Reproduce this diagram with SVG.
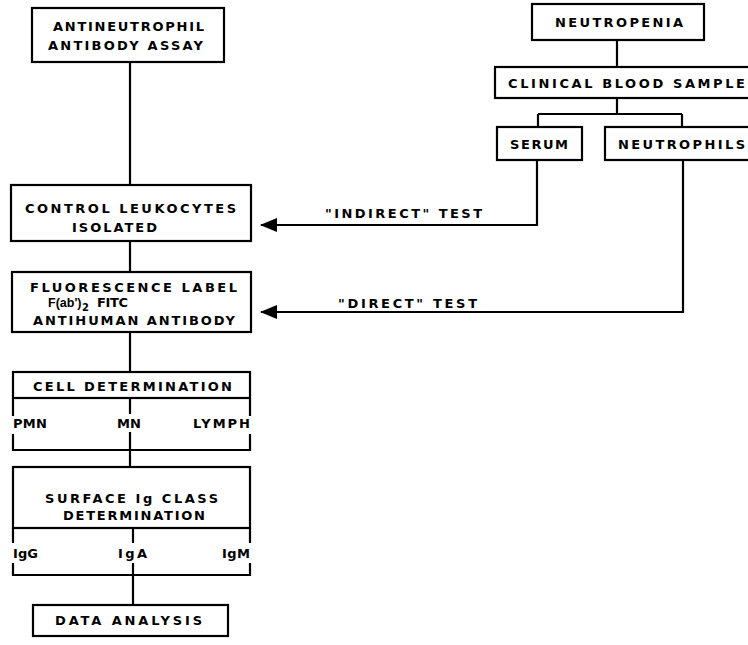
<svg xmlns="http://www.w3.org/2000/svg" width="748" height="645" viewBox="0 0 748 645">
<style>
.box{fill:#fff;stroke:#000;stroke-width:2.2}
.ln{fill:none;stroke:#000;stroke-width:2.2}
.t{font-family:"DejaVu Sans","Liberation Sans",Arial,sans-serif;font-weight:bold;font-size:13px;fill:#000}
.f{font-family:"Liberation Sans",Arial,sans-serif;font-weight:bold;font-size:12.5px;fill:#000}
.sub{font-family:"DejaVu Sans","Liberation Sans",Arial,sans-serif;font-weight:bold;font-size:10px;fill:#000}
</style>
<defs>
<marker id="arr" viewBox="0 0 17 14" markerWidth="17" markerHeight="14" refX="16" refY="7" orient="auto" markerUnits="userSpaceOnUse">
<path d="M0,0 L17,7 L0,14 z" fill="#000"/>
</marker>
</defs>
<rect width="748" height="645" fill="#fff"/>
<g id="connectors">
<path class="ln" d="M130,62 V185"/>
<path class="ln" d="M130,241 V272"/>
<path class="ln" d="M130,332 V372"/>
<path class="ln" d="M13,398 V416 M250,398 V416 M130,398 V414"/>
<path class="ln" d="M13,434 V450 H250 V434 M130,432 V467"/>
<path class="ln" d="M13,528 V543 M250,528 V543 M133,528 V543"/>
<path class="ln" d="M13,563 V575 H250 V563 M133,563 V605"/>
<path class="ln" d="M617,40 V67 M617,98 V114 M538,114 H682 M538,114 V127 M682,114 V127"/>
<path class="ln" d="M537,160 V225 H261" marker-end="url(#arr)"/>
<path class="ln" d="M683,160 V312 H261" marker-end="url(#arr)"/>
<text class="t" x="325" y="218" textLength="157" lengthAdjust="spacing">"INDIRECT" TEST</text>
<text class="t" x="338" y="308" textLength="139" lengthAdjust="spacing">"DIRECT" TEST</text>
</g>
<g id="antineutrophil">
<rect class="box" x="32" y="8" width="192" height="54"/>
<text class="t" x="53" y="31" textLength="151" lengthAdjust="spacing">ANTINEUTROPHIL</text>
<text class="t" x="48" y="50" textLength="155" lengthAdjust="spacing">ANTIBODY ASSAY</text>
</g>
<g id="control">
<rect class="box" x="11" y="185" width="240" height="56"/>
<text class="t" x="25" y="213" textLength="211" lengthAdjust="spacing">CONTROL LEUKOCYTES</text>
<text class="t" x="72" y="232" textLength="85" lengthAdjust="spacing">ISOLATED</text>
</g>
<g id="fluorescence">
<rect class="box" x="12" y="272" width="239" height="60"/>
<text class="t" x="30" y="292" textLength="207" lengthAdjust="spacing">FLUORESCENCE LABEL</text>
<text class="f" x="48" y="307">F(ab')</text>
<text class="sub" x="82" y="311">2</text>
<text class="t" x="97" y="307" textLength="31" lengthAdjust="spacing">FITC</text>
<text class="t" x="33" y="325" textLength="202" lengthAdjust="spacing">ANTIHUMAN ANTIBODY</text>
</g>
<g id="cell">
<rect class="box" x="13" y="372" width="237" height="26"/>
<text class="t" x="33" y="391" textLength="199" lengthAdjust="spacing">CELL DETERMINATION</text>
<text class="t" x="13" y="428" textLength="34" lengthAdjust="spacing">PMN</text>
<text class="t" x="117" y="428" textLength="24" lengthAdjust="spacing">MN</text>
<text class="t" x="193" y="428" textLength="57" lengthAdjust="spacing">LYMPH</text>
</g>
<g id="surface">
<rect class="box" x="13" y="467" width="237" height="61"/>
<text class="t" x="45" y="503" textLength="173" lengthAdjust="spacing">SURFACE Ig CLASS</text>
<text class="t" x="63" y="520" textLength="142" lengthAdjust="spacing">DETERMINATION</text>
<text class="t" x="13" y="558" textLength="25" lengthAdjust="spacing">IgG</text>
<text class="t" x="118" y="558" textLength="29" lengthAdjust="spacing">IgA</text>
<text class="t" x="222" y="558" textLength="28" lengthAdjust="spacing">IgM</text>
</g>
<g id="data">
<rect class="box" x="33" y="605" width="195" height="31"/>
<text class="t" x="55" y="625" textLength="147" lengthAdjust="spacing">DATA ANALYSIS</text>
</g>
<g id="neutropenia">
<rect class="box" x="532" y="4" width="172" height="36"/>
<text class="t" x="555" y="27" textLength="128" lengthAdjust="spacing">NEUTROPENIA</text>
</g>
<g id="clinical">
<rect class="box" x="495" y="67" width="265" height="31"/>
<text class="t" x="508" y="88" textLength="237" lengthAdjust="spacing">CLINICAL BLOOD SAMPLE</text>
</g>
<g id="serum">
<rect class="box" x="497" y="127" width="85" height="33"/>
<text class="t" x="510" y="149" textLength="58" lengthAdjust="spacing">SERUM</text>
</g>
<g id="neutrophils">
<rect class="box" x="605" y="127" width="155" height="33"/>
<text class="t" x="618" y="149" textLength="127" lengthAdjust="spacing">NEUTROPHILS</text>
</g>
</svg>
